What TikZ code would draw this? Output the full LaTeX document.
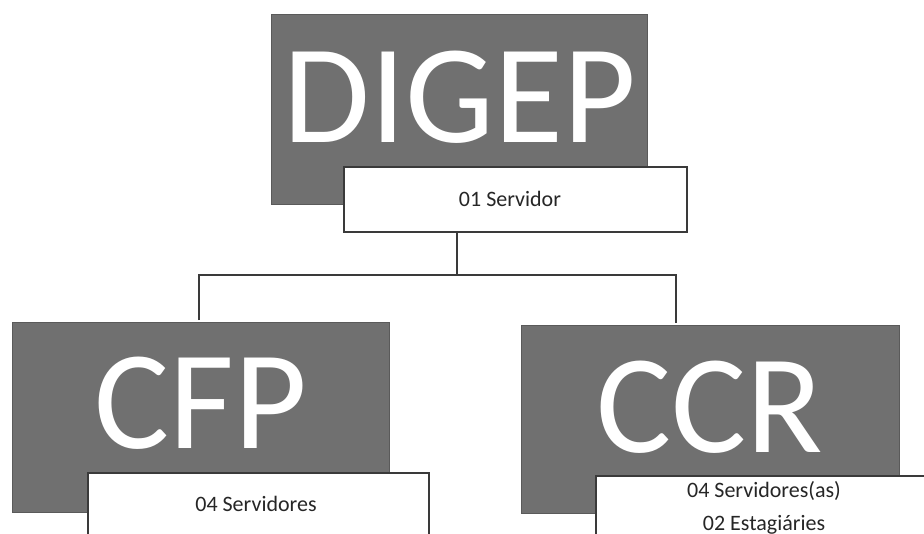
\documentclass[tikz,border=0pt]{standalone}
\usepackage{fontspec}
\setmainfont{Carlito}
\definecolor{boxgray}{HTML}{707070}
\definecolor{linegray}{HTML}{3A3A3A}
\begin{document}
\begin{tikzpicture}[x=1pt,y=-1pt,
  graybox/.style={fill=boxgray,draw=boxgray!80!black,line width=0.6pt,anchor=north west,inner sep=0pt},
  whitebox/.style={fill=white,draw=linegray,line width=1.6pt,anchor=north west,inner sep=0pt},
  bigtext/.style={text=white,font=\fontsize{141}{141}\selectfont,anchor=base,inner sep=0pt},
  smalltext/.style={text=black!85,font=\fontsize{22}{33}\selectfont,anchor=base,inner sep=0pt},
  conn/.style={draw=linegray,line width=1.6pt}]
\useasboundingbox (0,0) rectangle (924,533);
\clip (0,0) rectangle (924,533);
% top unit
\node[graybox,minimum width=376pt,minimum height=190pt] (dig) at (271,14) {};
\node[bigtext] (digt) at (460,142) {DIGEP};
\node[whitebox,minimum width=343pt,minimum height=65pt] (ser) at (343,166) {};
\node[smalltext] (sert) at (510,206) {01 Servidor};
% left unit
\node[graybox,minimum width=377pt,minimum height=190pt] (cfp) at (12,322) {};
\node[bigtext] (cfpt) at (201,448) {CFP};
\node[whitebox,minimum width=341pt,minimum height=90pt] (cfpw) at (87,472) {};
\node[smalltext] (cfpwt) at (256,511) {04 Servidores};
% right unit
\node[graybox,minimum width=378pt,minimum height=188pt] (ccr) at (521,325) {};
\node[bigtext] (ccrt) at (710,452) {CCR};
\node[whitebox,minimum width=345pt,minimum height=90pt] (ccrw) at (595,475) {};
\node[smalltext,align=center,anchor=north] (ccrwt) at (764,481) {04 Servidores(as)\\02 Estagiáries};
% connectors
\coordinate (bus) at (457,275);
\coordinate (cfptop) at (199,320);
\coordinate (ccrtop) at (676,323);
\draw[conn] (ser.south -| bus) -- (bus);
\draw[conn] (cfptop) |- (bus) -| (ccrtop);
\end{tikzpicture}
\end{document}
